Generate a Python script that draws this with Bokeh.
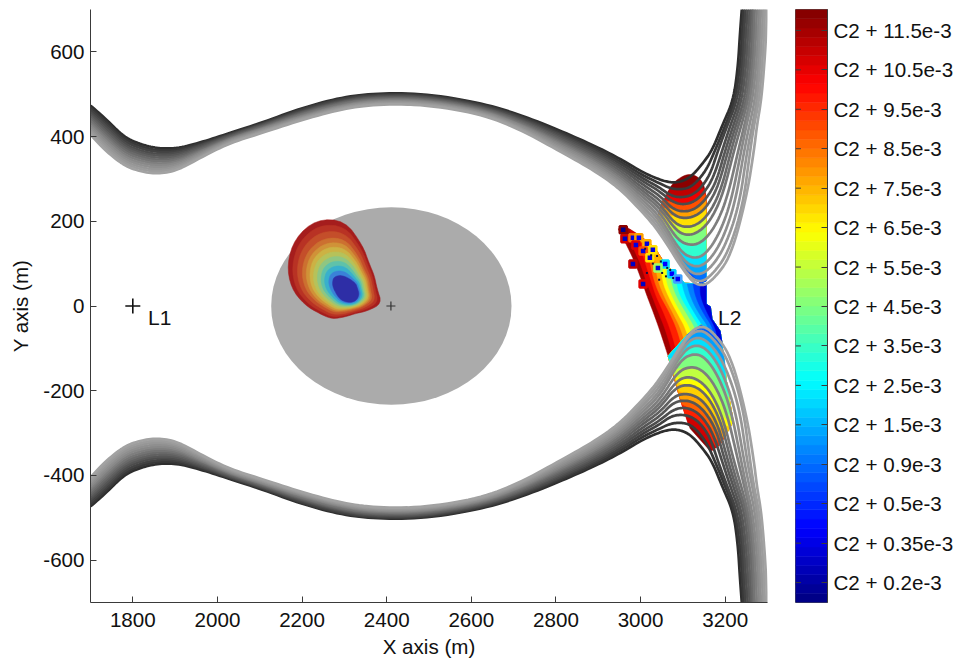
import numpy as np
from bokeh.plotting import figure
from bokeh.layouts import row
from bokeh.models import Range1d, FixedTicker
from bokeh.core.properties import value
from bokeh.embed import file_html
from bokeh.resources import INLINE

FONT = "Liberation Sans"
FS = "20.6px"
AXC = "#3a3a3a"

# --- Gray trajectory family (upper; the lower one is its mirror image) ---
BAND_X = [1700, 1735, 1780, 1820, 1860, 1905, 1960, 2025, 2100, 2195, 2290, 2370, 2485, 2620, 2715, 2810, 2890]
BAND_Y = [
    [473, 443, 398, 381, 372, 372, 386, 407, 431, 466, 492, 502, 502, 480, 452, 414, 379],
    [468, 437, 393, 376, 367, 368, 383, 405, 429, 464, 490, 500, 500, 478, 449, 410, 375],
    [463, 431, 388, 371, 363, 364, 380, 403, 427, 462, 488, 498, 498, 476, 447, 406, 370],
    [457, 426, 382, 366, 358, 360, 378, 402, 426, 459, 485, 496, 496, 474, 444, 403, 366],
    [452, 420, 377, 361, 354, 356, 375, 400, 424, 457, 483, 494, 494, 472, 441, 399, 361],
    [447, 414, 372, 357, 349, 352, 372, 398, 422, 455, 481, 492, 492, 470, 439, 395, 357],
    [442, 408, 367, 352, 344, 348, 369, 396, 420, 453, 479, 490, 490, 468, 436, 391, 352],
    [437, 402, 362, 347, 340, 344, 366, 394, 418, 451, 477, 488, 488, 466, 433, 387, 348],
    [431, 397, 356, 342, 335, 340, 364, 393, 417, 448, 474, 486, 486, 464, 430, 384, 343],
    [426, 391, 351, 337, 331, 336, 361, 391, 415, 446, 472, 484, 484, 462, 428, 380, 339],
    [421, 385, 346, 332, 326, 332, 358, 389, 413, 444, 470, 482, 482, 460, 425, 376, 334],
    [416, 379, 341, 327, 321, 328, 355, 387, 411, 442, 468, 480, 480, 458, 422, 372, 330],
    [411, 373, 336, 322, 317, 324, 352, 385, 409, 440, 466, 478, 478, 456, 420, 368, 325],
    [405, 367, 331, 317, 312, 320, 350, 383, 407, 438, 464, 476, 476, 454, 417, 365, 320],
]
ARC_X = [
    [2951, 3006, 3046, 3065, 3081, 3103, 3122, 3145, 3169, 3193, 3219, 3230, 3235, 3240],
    [2951, 3006, 3046, 3070, 3093, 3115, 3134, 3157, 3176, 3200, 3223, 3235, 3240, 3244],
    [2951, 3006, 3046, 3072, 3098, 3122, 3143, 3165, 3183, 3205, 3228, 3240, 3244, 3249],
    [2951, 3006, 3046, 3075, 3100, 3127, 3150, 3172, 3193, 3212, 3234, 3244, 3249, 3254],
    [2951, 3006, 3046, 3077, 3105, 3131, 3155, 3179, 3200, 3219, 3239, 3249, 3254, 3259],
    [2951, 3006, 3046, 3079, 3107, 3136, 3160, 3184, 3207, 3225, 3245, 3254, 3259, 3263],
    [2951, 3006, 3046, 3081, 3110, 3138, 3165, 3191, 3214, 3231, 3250, 3259, 3264, 3266],
    [2951, 3006, 3046, 3086, 3115, 3143, 3169, 3195, 3221, 3238, 3254, 3264, 3268, 3270],
    [2951, 3006, 3046, 3088, 3122, 3150, 3179, 3205, 3231, 3245, 3259, 3268, 3273, 3275],
    [2951, 3006, 3046, 3093, 3127, 3155, 3186, 3214, 3238, 3250, 3264, 3273, 3278, 3280],
    [2951, 3006, 3046, 3098, 3131, 3160, 3193, 3223, 3245, 3257, 3270, 3278, 3282, 3285],
    [2951, 3006, 3046, 3103, 3134, 3165, 3200, 3233, 3252, 3264, 3275, 3282, 3287, 3290],
    [2951, 3006, 3046, 3107, 3139, 3169, 3207, 3242, 3259, 3268, 3280, 3287, 3292, 3294],
    [2951, 3006, 3046, 3112, 3143, 3172, 3214, 3251, 3268, 3275, 3285, 3292, 3297, 3299],
]
ARC_Y = [
    [348, 315, 298, 293, 291, 296, 308, 334, 367, 426, 485, 563, 644, 710],
    [342, 308, 289, 278, 275, 279, 294, 324, 367, 426, 485, 563, 644, 710],
    [337, 301, 279, 260, 256, 262, 279, 312, 367, 426, 485, 563, 644, 710],
    [331, 294, 270, 246, 239, 246, 267, 303, 367, 426, 485, 563, 644, 710],
    [327, 286, 260, 228, 222, 230, 253, 293, 367, 426, 485, 563, 644, 710],
    [321, 278, 250, 213, 206, 215, 239, 284, 367, 426, 485, 563, 644, 710],
    [315, 271, 240, 194, 185, 194, 222, 277, 367, 426, 485, 563, 644, 710],
    [310, 264, 231, 175, 166, 178, 208, 265, 367, 426, 485, 563, 644, 710],
    [304, 257, 221, 154, 142, 154, 192, 256, 367, 426, 485, 563, 644, 710],
    [299, 249, 211, 128, 111, 123, 170, 246, 367, 426, 485, 563, 644, 710],
    [293, 242, 202, 109, 90, 104, 154, 241, 367, 426, 485, 563, 644, 710],
    [288, 234, 192, 92, 71, 88, 140, 237, 367, 426, 485, 563, 644, 710],
    [283, 227, 182, 76, 54, 73, 125, 237, 367, 426, 485, 563, 644, 710],
    [277, 220, 173, 66, 45, 62, 118, 260, 367, 426, 485, 563, 644, 710],
]
GRAYS = ["#2e2e2e", "#383838", "#424242", "#4c4c4c", "#565656", "#606060", "#6a6a6a",
         "#747474", "#7e7e7e", "#888888", "#8f8f8f", "#969696", "#9c9c9c", "#a2a2a2"]

# --- Central blob: contour radii (m) around its core, one row per level ---
BLOB_CENTER = (2301, 42)
BLOB_ANGLES = [0, 22.5, 45, 67.5, 90, 112.5, 135, 157.5, 180, 202.5, 225, 247.5, 270, 292.5, 315, 337.5]
BLOB_RADII = [
    [76, 76, 82, 110, 160, 176, 167, 148, 127, 103, 85, 79, 68, 65, 76, 95],
    [71, 71, 77, 102, 147, 162, 154, 136, 117, 95, 79, 74, 64, 62, 71, 86],
    [66, 66, 71, 93, 132, 146, 140, 124, 106, 86, 72, 68, 60, 58, 66, 78],
    [60, 61, 64, 83, 117, 129, 125, 111, 95, 77, 65, 62, 55, 55, 61, 71],
    [56, 57, 60, 76, 106, 117, 114, 101, 86, 71, 60, 58, 52, 52, 59, 66],
    [53, 53, 55, 69, 95, 106, 104, 91, 78, 64, 55, 54, 50, 50, 56, 62],
    [49, 49, 50, 62, 84, 94, 93, 82, 70, 58, 50, 50, 47, 48, 53, 58],
    [45, 45, 45, 55, 73, 82, 82, 72, 61, 51, 45, 45, 44, 46, 51, 54],
    [41, 41, 40, 47, 62, 70, 71, 62, 53, 44, 40, 41, 41, 44, 48, 50],
    [38, 37, 35, 40, 51, 58, 60, 53, 45, 38, 35, 37, 38, 42, 46, 46],
    [34, 32, 30, 32, 39, 45, 48, 42, 35, 31, 30, 32, 35, 39, 43, 41],
    [30, 28, 25, 25, 28, 33, 37, 32, 27, 24, 25, 28, 32, 37, 40, 37],
]
BLOB_COLORS = ["#a51d1d", "#b83224", "#c44e2a", "#cc7030", "#d09238", "#ccb244",
               "#b6c25a", "#8fc682", "#5fc2aa", "#38b0cc", "#3a82d8", "#2e2ea6"]

# --- Crescent near L2: left edges of the colour bands ---
CRES_EDGE_X = [
    [3065, 3046, 3029, 3015, 3003, 2987, 2968, 2947],
    [3077, 3060, 3041, 3027, 3013, 2999, 2980, 2975],
    [3088, 3072, 3053, 3036, 3025, 3011, 2999, 2999],
    [3103, 3088, 3067, 3046, 3032, 3022, 3020],
    [3112, 3098, 3074, 3055, 3041, 3034, 3034],
    [3122, 3110, 3084, 3065, 3051, 3048],
    [3131, 3122, 3093, 3074, 3060, 3060],
    [3141, 3134, 3105, 3084, 3072, 3070],
    [3150, 3145, 3115, 3093, 3084, 3084],
    [3160, 3155, 3124, 3105, 3096],
    [3169, 3167, 3134, 3117, 3110],
    [3179, 3176, 3145, 3129, 3124],
    [3183, 3181, 3155, 3141, 3141],
]
CRES_EDGE_Y = [
    [-118, -59, -12, 24, 59, 102, 142, 182],
    [-118, -59, -12, 24, 59, 102, 142, 180],
    [-118, -59, -12, 24, 59, 102, 142, 166],
    [-118, -59, -12, 24, 59, 102, 149],
    [-118, -59, -12, 24, 59, 102, 137],
    [-118, -59, -12, 24, 59, 111],
    [-118, -59, -12, 24, 59, 99],
    [-118, -59, -12, 24, 59, 88],
    [-118, -59, -12, 24, 59, 73],
    [-118, -59, -12, 24, 62],
    [-118, -59, -12, 24, 52],
    [-118, -59, -12, 24, 52],
    [-107, -59, -12, 24, 52],
]
CRES_COLORS = ["#a00000", "#e00000", "#ff2000", "#ff7000", "#ffb000", "#ffff00", "#b0ff50",
               "#50ffb0", "#00ffff", "#00c0ff", "#0080ff", "#0040ff", "#0000d8"]
CRES_DIAG_X = [2963, 2999, 3034, 3053, 3081, 3105, 3136, 3155]
CRES_DIAG_Y = [189, 166, 137, 107, 76, 54, 52, 52]
CRES_RIGHT_X = [3155, 3165, 3169, 3188, 3193, 3179]
CRES_RIGHT_Y = [5, -2, -31, -59, -90, -118]

# --- Upper lobe: top edge of each colour band ---
UP_X = [
    [3046, 3065, 3081, 3117, 3148, 3155],
    [3072, 3093, 3115, 3134, 3141, 3155],
    [3063, 3098, 3122, 3148, 3155],
    [3051, 3074, 3100, 3127, 3153, 3155],
    [3046, 3074, 3105, 3131, 3155],
    [3041, 3079, 3107, 3136, 3155],
    [3039, 3081, 3110, 3138, 3155],
    [3044, 3086, 3115, 3143, 3155],
    [3051, 3088, 3122, 3150, 3155],
    [3065, 3093, 3127, 3155],
    [3079, 3098, 3131, 3155],
    [3093, 3103, 3134, 3155],
    [3107, 3139, 3155],
]
UP_Y = [
    [230, 272, 296, 315, 296, 256],
    [279, 275, 279, 294, 301, 256],
    [263, 256, 262, 284, 256],
    [249, 246, 239, 246, 267, 256],
    [230, 232, 222, 230, 253],
    [215, 213, 206, 215, 234],
    [201, 194, 185, 194, 211],
    [192, 175, 166, 178, 192],
    [178, 154, 142, 154, 161],
    [151, 128, 111, 123],
    [130, 109, 90, 99],
    [107, 92, 71, 78],
    [85, 54, 66],
]
UP_COLORS = ["#8b0000", "#c00000", "#f00000", "#ff5000", "#ffa000", "#ffe000", "#d0ff30",
             "#80ff80", "#30ffd0", "#00e0ff", "#00a8ff", "#0070ff", "#0030ff"]
UP_LOW_X = [3155, 3141, 3110, 3063, 3039, 3046]
UP_LOW_Y = [59, 54, 83, 154, 201, 230]

# --- Lower lobe: outer edge of each colour band ---
LOW_X = [
    [3165],
    [3112, 3134, 3157, 3169],
    [3105, 3122, 3143, 3165, 3179],
    [3098, 3127, 3150, 3172, 3188],
    [3096, 3131, 3155, 3179, 3198],
    [3091, 3136, 3160, 3183, 3205],
    [3086, 3138, 3165, 3191, 3212],
    [3081, 3143, 3169, 3195, 3219],
    [3074, 3122, 3150, 3179, 3205, 3214],
    [3070, 3093, 3127, 3155, 3186, 3210],
    [3067, 3098, 3131, 3160, 3193, 3202],
    [3103, 3134, 3165, 3200],
    [3107, 3138, 3169, 3191],
]
LOW_Y = [
    [-343],
    [-277, -294, -324, -341],
    [-256, -260, -279, -312, -334],
    [-232, -246, -267, -303, -327],
    [-220, -230, -253, -294, -312],
    [-201, -215, -239, -284, -300],
    [-180, -194, -222, -277, -286],
    [-166, -178, -208, -265, -272],
    [-149, -142, -154, -192, -256, -258],
    [-135, -128, -111, -123, -170, -215],
    [-125, -109, -90, -104, -154, -178],
    [-92, -71, -88, -140],
    [-76, -54, -73, -95],
]
LOW_COLORS = ["#900000", "#d00000", "#ff2000", "#ff6000", "#ffa000", "#ffd000", "#ffff00",
              "#c0ff40", "#80ff80", "#30ffd0", "#00e0ff", "#00a0ff", "#0060ff"]
LOW_RIGHT = [(3188, -327), (3219, -272), (3205, -194), (3193, -95)]
LOW_TOP = [(3172, -62), (3143, -45), (3112, -66)]
LOW_LEFT = [(3065, -118), (3093, -218), (3117, -289)]

# --- Scattered square markers on the crescent's upper edge ---
MARK_X = [2959, 2963, 2982, 2996, 2989, 3015, 3029, 3006, 3022, 3058, 3074, 3088, 3041, 3006, 2982]
MARK_Y = [180, 159, 161, 161, 144, 147, 133, 130, 114, 99, 76, 64, 90, 52, 99]
MARK_FILL = ["#00008b", "#0000c0", "#0000e0", "#0000ff", "#0000e0", "#0000e0", "#0000e0", "#0000e0",
             "#0000e0", "#0000ff", "#0000ff", "#0000ff", "#0000e0", "#0000c0", "#0000c0"]
MARK_EDGE = ["#8b0000", "#d00000", "#ff7000", "#ffa000", "#e00000", "#ffb000", "#ffe000", "#ff5000",
             "#ffe000", "#00e0ff", "#00d0ff", "#40a0ff", "#a0ff60", "#e00000", "#c00000"]
DOT_X = [3011, 3025, 3039, 3048, 3063, 3070, 3029, 3051, 3077, 3015, 3044, 3060]
DOT_Y = [135, 120, 118, 105, 90, 85, 100, 78, 66, 78, 62, 70]

# --- Labels and ticks ---
X_TICKS = [1800, 2000, 2200, 2400, 2600, 2800, 3000, 3200]
Y_TICKS = [-600, -400, -200, 0, 200, 400, 600]
CB_LABELS = ["0.2", "0.35", "0.5", "0.9", "1.5", "2.5", "3.5", "4.5", "5.5", "6.5", "7.5", "8.5", "9.5", "10.5", "11.5"]
ELLIPSE = (2411, 0, 568, 466)
L_POINTS = [("L1", 1836, -26), ("L2", 3183, -26)]
CROSS_BIG = (1800, 0)
CROSS_SMALL = (2410, 0)


def smooth(xs, ys, closed=False, rounds=3):
    """Corner-rounding of a read-off polyline, only so that it is drawn as a curve."""
    pts = np.column_stack([xs, ys]).astype(float)
    for _ in range(rounds):
        nxt = np.roll(pts, -1, axis=0) if closed else pts[1:]
        cur = pts if closed else pts[:-1]
        q = 0.75 * cur + 0.25 * nxt
        r = 0.25 * cur + 0.75 * nxt
        mid = np.empty((2 * len(cur), 2))
        mid[0::2], mid[1::2] = q, r
        pts = mid if closed else np.vstack([pts[0], mid, pts[-1]])
    return list(pts[:, 0]), list(pts[:, 1])


p = figure(width=783, height=662, output_backend="svg", toolbar_location=None,
           x_range=Range1d(1700, 3300), y_range=Range1d(-700, 700),
           min_border_left=90, min_border_right=16, min_border_top=9, min_border_bottom=60)
p.outline_line_color = None
p.grid.visible = False
p.background_fill_color = "white"
p.xaxis.ticker = FixedTicker(ticks=X_TICKS)
p.yaxis.ticker = FixedTicker(ticks=Y_TICKS)
p.yaxis.major_label_overrides = {t: str(t) for t in Y_TICKS}
p.xaxis.axis_label = "X axis (m)"
p.yaxis.axis_label = "Y axis (m)"
for ax in (p.xaxis[0], p.yaxis[0]):
    ax.major_tick_in = 6
    ax.major_tick_out = 0
    ax.minor_tick_in = 0
    ax.minor_tick_out = 0
    ax.axis_line_color = AXC
    ax.major_tick_line_color = AXC
    ax.major_label_text_font = FONT
    ax.major_label_text_font_size = FS
    ax.major_label_text_color = "#111111"
    ax.axis_label_text_font = FONT
    ax.axis_label_text_font_size = FS
    ax.axis_label_text_font_style = "normal"
    ax.axis_label_text_color = "#111111"
p.xaxis.major_label_standoff = 10
p.xaxis.axis_label_standoff = 5
p.yaxis.major_label_standoff = 6
p.yaxis.axis_label_standoff = 8
p.yaxis.major_label_orientation = "horizontal"

p.ellipse(x=[ELLIPSE[0]], y=[ELLIPSE[1]], width=[ELLIPSE[2]], height=[ELLIPSE[3]],
          fill_color="#ababab", line_color=None)

ang = np.radians(BLOB_ANGLES)
for radii, col in zip(BLOB_RADII, BLOB_COLORS):
    r = np.array(radii, dtype=float)
    bx, by_ = smooth(BLOB_CENTER[0] + r * np.cos(ang), BLOB_CENTER[1] + r * np.sin(ang), closed=True, rounds=2)
    p.patch(bx, by_, fill_color=col, line_color=col, line_width=0.5)

for ex, ey, col in zip(CRES_EDGE_X, CRES_EDGE_Y, CRES_COLORS):
    dx = [x for x in CRES_DIAG_X if x > ex[-1]]
    dy = CRES_DIAG_Y[len(CRES_DIAG_X) - len(dx):]
    sx, sy = smooth(ex, ey)
    p.patch(sx + dx + CRES_RIGHT_X, sy + dy + CRES_RIGHT_Y, fill_color=col, line_color=col, line_width=0.5)

for ux, uy, col in zip(UP_X, UP_Y, UP_COLORS):
    keep = [(a, b) for a, b in zip(UP_LOW_X, UP_LOW_Y) if b < uy[0]]
    sx, sy = smooth(ux, uy)
    p.patch(sx + [a for a, _ in keep], sy + [b for _, b in keep], fill_color=col, line_color=col, line_width=0.5)

for lx, ly, col in zip(LOW_X, LOW_Y, LOW_COLORS):
    right = [q for q in LOW_RIGHT if q[1] > ly[-1]]
    left = [q for q in LOW_LEFT if q[1] > ly[0]]
    pts = right + LOW_TOP + left
    sx, sy = smooth(lx, ly) if len(lx) > 1 else (lx, ly)
    p.patch(sx + [a for a, _ in pts], sy + [b for _, b in pts], fill_color=col, line_color=col, line_width=0.5)

p.scatter(MARK_X, MARK_Y, marker="square", size=7, fill_color=MARK_FILL, line_color=MARK_EDGE, line_width=2.5)
p.scatter(DOT_X, DOT_Y, marker="square", size=2, fill_color="#101040", line_color=None)

for by, ax_, ay_, col in zip(BAND_Y, ARC_X, ARC_Y, GRAYS):
    xs, ys = smooth(BAND_X + ax_, by + ay_)
    p.line(xs, ys, line_color=col, line_width=2.7, line_join="round")
    p.line(xs, [-v for v in ys], line_color=col, line_width=2.7, line_join="round")

p.scatter([CROSS_BIG[0]], [CROSS_BIG[1]], marker="cross", size=15, line_color="#111111", line_width=1.6)
p.scatter([CROSS_SMALL[0]], [CROSS_SMALL[1]], marker="cross", size=9, line_color="#333333", line_width=1.2)
p.text([q[1] for q in L_POINTS], [q[2] for q in L_POINTS], text=[q[0] for q in L_POINTS],
       text_font=value(FONT), text_font_size=value("21px"), text_color="#111111",
       text_align="left", text_baseline="middle")


# --- Colour bar ---
def jet(t):
    r = np.clip(min(4 * t - 1.5, -4 * t + 4.5), 0, 1)
    g = np.clip(min(4 * t - 0.5, -4 * t + 3.5), 0, 1)
    b = np.clip(min(4 * t + 0.5, -4 * t + 2.5), 0, 1)
    return "#%02x%02x%02x" % (int(r * 255), int(g * 255), int(b * 255))


LEVELS = 64
y0, y1 = -0.505, 14.53
edges = [y0 + (y1 - y0) * i / LEVELS for i in range(LEVELS + 1)]
cols = [jet((i + 0.5) / LEVELS) for i in range(LEVELS)]
cb = figure(width=173, height=662, output_backend="svg", toolbar_location=None,
            x_range=Range1d(0, 1), y_range=Range1d(y0, y1),
            y_axis_location="right", x_axis_location=None,
            min_border_left=12, min_border_right=0, min_border_top=9, min_border_bottom=58)
cb.grid.visible = False
cb.outline_line_color = "#555555"
cb.quad(left=0, right=1, bottom=edges[:-1], top=edges[1:], fill_color=cols, line_color=cols, line_width=0.6)
ticks = list(range(len(CB_LABELS)))
cb.segment(x0=[0] * len(ticks), x1=[0.17] * len(ticks), y0=ticks, y1=ticks, line_color=AXC, line_width=1)
ra = cb.yaxis[0]
ra.ticker = FixedTicker(ticks=ticks)
ra.major_label_overrides = {i: f"C2 + {s}e-3" for i, s in zip(ticks, CB_LABELS)}
ra.major_tick_in = 6
ra.major_tick_out = 0
ra.minor_tick_in = 0
ra.minor_tick_out = 0
ra.axis_line_color = AXC
ra.major_tick_line_color = AXC
ra.major_label_text_font = FONT
ra.major_label_text_font_size = FS
ra.major_label_text_color = "#111111"
ra.major_label_standoff = 6

layout = row(p, cb, spacing=0)
open("out.html", "w").write(file_html(layout, INLINE))
